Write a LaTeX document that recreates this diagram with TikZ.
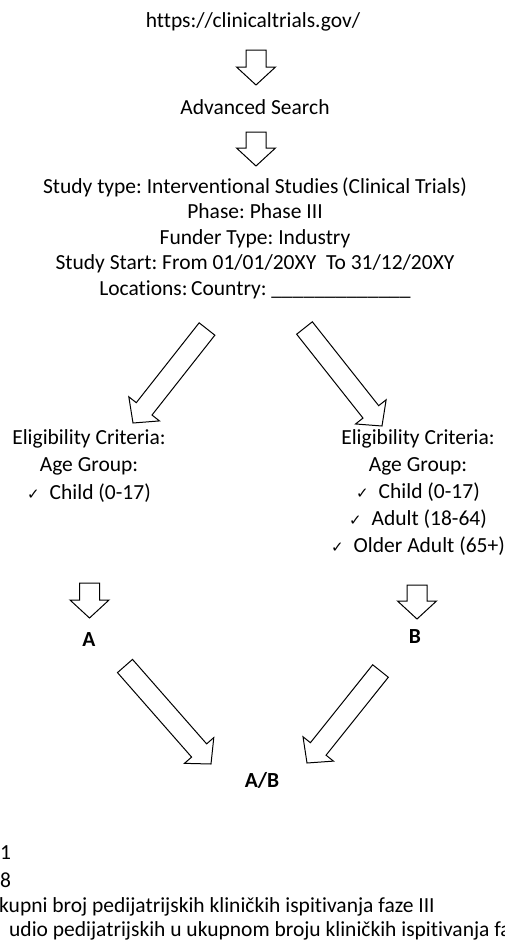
\documentclass[tikz,border=0pt]{standalone}
\usepackage{fontspec}
\setmainfont{Carlito}[Ligatures={NoCommon}]
\newfontfamily\checkfont{DejaVu Sans}
\usetikzlibrary{calc}
\frenchspacing

\newcommand{\tick}{{\checkfont\fontsize{15}{15}\selectfont ✓}\hspace{10pt}}
% hollow block arrow from tail #1 to tip #2
\newcommand{\blockarrow}[2]{%
\coordinate (neck) at ($(#2)!18pt!(#1)$);
\draw[line width=1pt, fill=white] ($(#1)!10pt!90:(#2)$) -- ($(neck)!10pt!90:(#2)$) -- ($(neck)!19.5pt!90:(#2)$) -- (#2) -- ($(neck)!19.5pt!-90:(#2)$) -- ($(neck)!10pt!-90:(#2)$) -- ($(#1)!10pt!-90:(#2)$) -- cycle;}

\begin{document}
\begin{tikzpicture}[x=1pt,y=-1pt,font=\fontsize{21.5}{25.5}\selectfont]
\useasboundingbox (0,0) rectangle (505,940);
\clip (0,0) rectangle (505,940);
\node[](url) at (253,22){https://clinicaltrials.gov/};
\node[](search) at (255,107){Advanced Search};
\node[align=center](filter) at (255,238){Study type: Interventional Studies\,(Clinical Trials)\\
Phase: Phase III\\ Funder Type: Industry\\ Study Start: From 01/01/20XY~ To 31/12/20XY\\
Locations:\,Country: \_\_\_\_\_\_\_\_\_\_\_\_\_};
\node[align=center, font=\fontsize{21.5}{27.5}\selectfont](elA) at (89,466){Eligibility Criteria:\\ Age Group:\\ \tick Child (0-17)};
\node[align=center, font=\fontsize{21.5}{27}\selectfont](elB) at (418,493){Eligibility Criteria:\\ Age Group:\\ \tick Child (0-17)\\ \tick Adult (18-64)\\ \tick Older Adult (65+)};
\node[font=\fontsize{21.5}{25.5}\bfseries](A) at (89,640){A};
\node[font=\fontsize{21.5}{25.5}\bfseries](B) at (415,637){B};
\node[font=\fontsize{21.5}{25.5}\bfseries](AB) at (262,780){A/B};
\node[anchor=west, inner sep=0](n1) at (0,853){1};
\node[anchor=west, inner sep=0](n2) at (0,880){8};
\node[anchor=west, inner sep=0](n3) at (-1,907){kupni broj pedijatrijskih kliničkih ispitivanja faze III};
\node[anchor=west, inner sep=0](n4) at (9,931){udio pedijatrijskih u ukupnom broju kliničkih ispitivanja faze III};

\coordinate (s1) at (256,50); \coordinate (t1) at (256,85);
\coordinate (s2) at (256,132); \coordinate (t2) at (256,166);
\coordinate (s3) at (207,329); \coordinate (t3) at (133,423);
\coordinate (s4) at (304.5,328); \coordinate (t4) at (382,426);
\coordinate (s5) at (89.5,583); \coordinate (t5) at (89.5,618);
\coordinate (s6) at (417,585); \coordinate (t6) at (417,619);
\coordinate (s7) at (125,666); \coordinate (t7) at (211,764);
\coordinate (s8) at (380.5,671); \coordinate (t8) at (307,763);
\blockarrow{s1}{t1}
\blockarrow{s2}{t2}
\blockarrow{s3}{t3}
\blockarrow{s4}{t4}
\blockarrow{s5}{t5}
\blockarrow{s6}{t6}
\blockarrow{s7}{t7}
\blockarrow{s8}{t8}
\end{tikzpicture}
\end{document}
